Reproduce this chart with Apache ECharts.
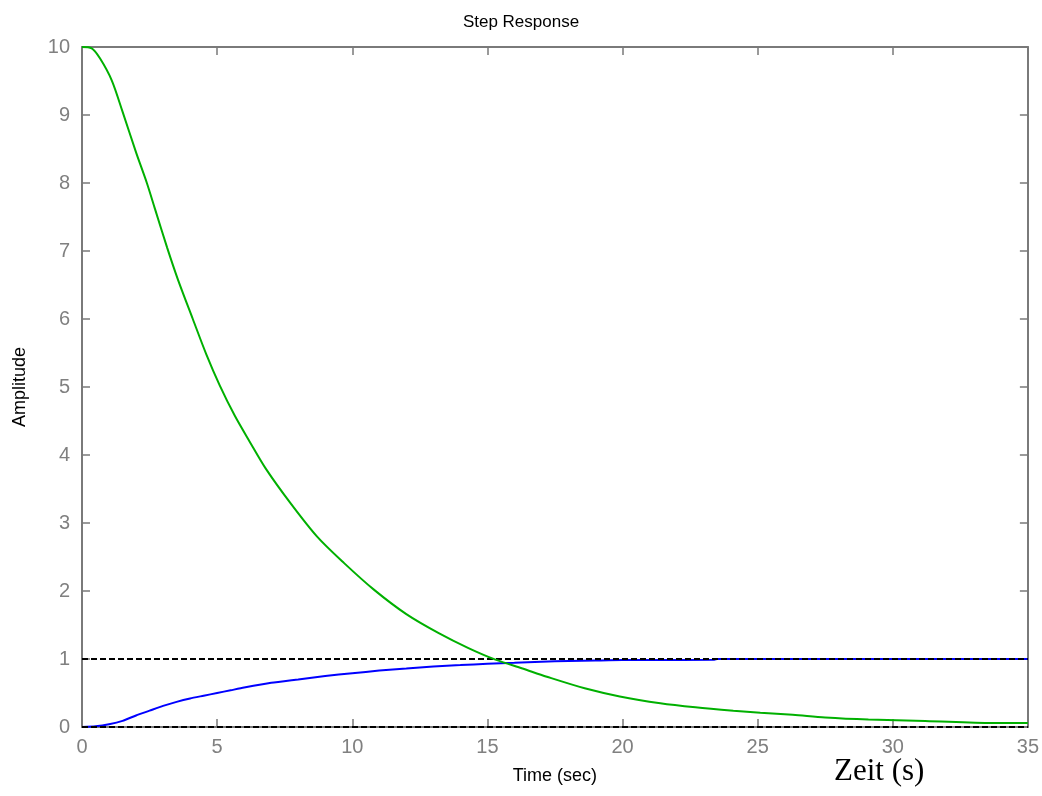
<!DOCTYPE html>
<html>
<head>
<meta charset="utf-8">
<script src="https://cdn.jsdelivr.net/npm/echarts@6/dist/echarts.min.js"></script>
<style>html,body{margin:0;padding:0;background:#fff}#c{width:1042px;height:796px}</style>
</head>
<body>
<div id="c"></div>
<script>
// Green curve (time, amplitude)
const greenT = [0,0.36,0.67,1.1,1.5,2.0,2.4,2.7,3.15,3.55,4.1,4.6,5.1,5.65,6.2,6.8,7.7,8.7,9.7,10.8,12.0,13.2,14.3,15.3,16.3,17.2,18.6,19.9,21.4,22.7,24.1,25.1,26.3,27.5,29.1,31.2,33.7,35];
const greenV = [10,9.98,9.83,9.51,9.05,8.45,8.0,7.62,7.05,6.58,6.0,5.48,5.02,4.58,4.2,3.8,3.3,2.8,2.41,2.02,1.66,1.38,1.16,0.99,0.86,0.74,0.57,0.45,0.35,0.29,0.24,0.21,0.18,0.14,0.11,0.09,0.06,0.06];
// Blue curve (time, amplitude)
const blueT = [0,0.5,1,1.5,2,2.5,3,3.5,4,4.5,5,5.5,6,7,8,9,10,11,12,13,14,15,16,17,18,19,20,21,23.4,23.5,35];
const blueV = [0,0.01,0.04,0.09,0.17,0.24,0.31,0.37,0.42,0.46,0.50,0.54,0.58,0.65,0.70,0.75,0.79,0.83,0.86,0.89,0.91,0.93,0.945,0.96,0.97,0.978,0.985,0.985,0.988,1.0,1.0];
// Dashed reference levels
const refLevels = [1, 0];
const xRange = [0, 35];
const xTicks = [0,5,10,15,20,25,30,35];
const yTicks = [0,1,2,3,4,5,6,7,8,9,10];

const toPairs = (t, v) => t.map((x, i) => [x, v[i]]);
const axisCol = '#7a7a7a';
const lblCol = '#808080';
const font = 'Liberation Sans, Arial, sans-serif';

const chart = echarts.init(document.getElementById('c'), null, {renderer: 'canvas'});
const baseX = {
  type: 'value', min: xRange[0], max: xRange[1], interval: 5,
  axisLine: {show: true, onZero: false, lineStyle: {color: axisCol, width: 2}},
  axisTick: {show: true, inside: true, length: 8, lineStyle: {color: axisCol, width: 1.5}},
  splitLine: {show: false}
};
const baseY = {
  type: 'value', min: 0, max: 10, interval: 1,
  axisLine: {show: true, onZero: false, lineStyle: {color: axisCol, width: 2}},
  axisTick: {show: true, inside: true, length: 8, lineStyle: {color: axisCol, width: 1.5}},
  splitLine: {show: false}
};
const option = {
  animation: false,
  backgroundColor: '#fff',
  grid: {left: 82, right: 13, top: 47, bottom: 69, containLabel: false},
  title: [
    {text: 'Step Response', left: 'center', top: 9,
     textStyle: {fontFamily: font, fontSize: 17, fontWeight: 'normal', color: '#000'}},
    {text: 'Zeit (s)', left: 829, top: 751,
     textStyle: {fontFamily: 'Liberation Serif, Times New Roman, serif', fontSize: 31, fontWeight: 'normal', color: '#000'}}
  ],
  xAxis: [
    Object.assign({}, baseX, {position: 'bottom',
      name: 'Time (sec)', nameLocation: 'middle', nameGap: 40,
      nameTextStyle: {fontFamily: font, fontSize: 18, color: '#000'},
      axisLabel: {show: true, margin: 10, fontFamily: font, fontSize: 20, color: lblCol,
        formatter: v => xTicks.includes(v) ? String(v) : ''}}),
    Object.assign({}, baseX, {position: 'top', axisLabel: {show: false}})
  ],
  yAxis: [
    Object.assign({}, baseY, {position: 'left',
      name: 'Amplitude', nameLocation: 'middle', nameGap: 53,
      nameTextStyle: {fontFamily: font, fontSize: 18, color: '#000'},
      axisLabel: {show: true, margin: 12, fontFamily: font, fontSize: 20, color: lblCol,
        formatter: v => yTicks.includes(v) ? String(v) : ''}}),
    Object.assign({}, baseY, {position: 'right', axisLabel: {show: false}})
  ],
  series: [
    ...refLevels.map(lv => ({
      type: 'line', data: [[xRange[0], lv], [xRange[1], lv]], showSymbol: false, silent: true,
      lineStyle: {color: '#000', width: 2, type: [6, 3]}, z: 3
    })),
    {type: 'line', data: toPairs(blueT, blueV), showSymbol: false, silent: true, smooth: 0.2,
     lineStyle: {color: '#0000ff', width: 2}, z: 2},
    {type: 'line', data: toPairs(greenT, greenV), showSymbol: false, silent: true, smooth: 0.3,
     lineStyle: {color: '#00b000', width: 2}, z: 4}
  ]
};
chart.setOption(option);
</script>
</body>
</html>
